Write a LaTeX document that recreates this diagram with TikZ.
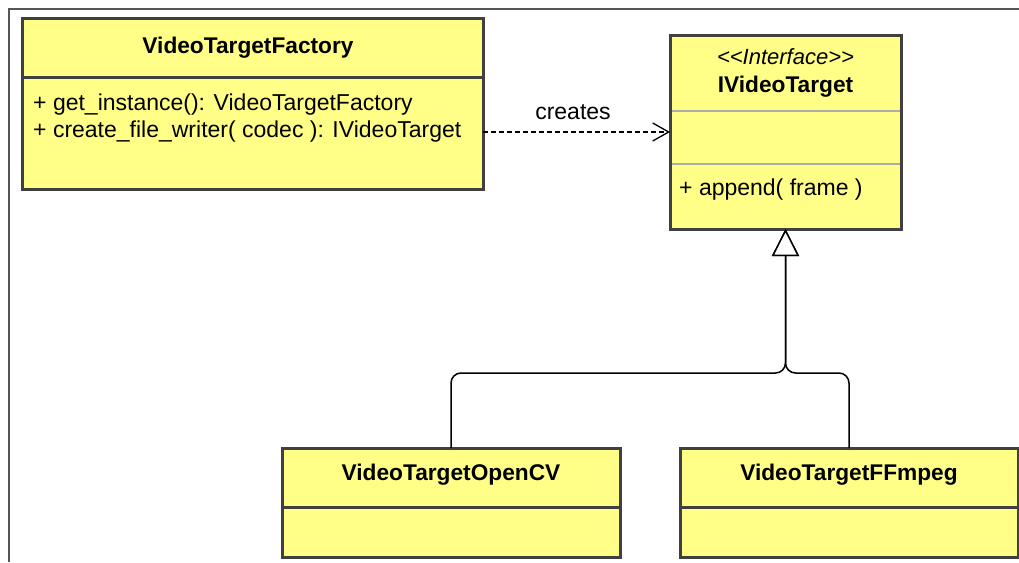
\documentclass[tikz,border=0pt]{standalone}
\usepackage{fontspec}
\setmainfont{Liberation Sans}
\usetikzlibrary{arrows.meta}
\definecolor{umlfill}{HTML}{FFFF88}
\definecolor{umledge}{HTML}{404040}
\definecolor{framecol}{HTML}{555555}
\tikzset{
 classbox/.style={draw=umledge, line width=3pt, fill=umlfill, anchor=north west, inner sep=0pt, outer sep=0pt},
 divider/.style={draw=umledge, line width=3pt},
 softdiv/.style={draw=gray!65, line width=1.5pt},
 classtitle/.style={font=\fontsize{22.7}{28}\selectfont\bfseries, inner sep=0pt, anchor=base},
 member/.style={font=\fontsize{23}{28}\selectfont, inner sep=0pt, anchor=base west},
 gen/.style={line width=1.5pt, rounded corners=10pt, -{Triangle[open,length=27pt,width=27pt,line width=1.5pt,fill=white]}},
 depend/.style={line width=1.3pt, dash pattern=on 5pt off 3pt, -{Straight Barb[length=16pt,width=18pt,line width=1.3pt]}},
}
\begin{document}
\begin{tikzpicture}[x=1pt,y=-1pt]
\useasboundingbox (0,0) rectangle (1019,562);
\draw[framecol, line width=1.5pt] (9,562) -- (9,9) -- (1019,9);

% VideoTargetFactory
\node[classbox, minimum width=461pt, minimum height=171pt] (fac) at (22,18) {};
\draw[divider] (22,77) -- (483,77);
\node[classtitle] (facname) at (248,53) {VideoTargetFactory};
\node[member] (facop1) at (33,110) {+ get\_instance(): VideoTargetFactory};
\node[member] (facop2) at (33,137.7) {+ create\_file\_writer( codec ): IVideoTarget};

% IVideoTarget
\node[classbox, minimum width=231pt, minimum height=194pt] (iv) at (670,35) {};
\draw[softdiv] (671.5,111) -- (899.5,111);
\draw[softdiv] (671.5,164) -- (899.5,164);
\node[classtitle, font=\fontsize{22}{28}\selectfont\itshape] (ivster) at (785.5,64.5) {<\kern0pt<Interface>\kern0pt>};
\node[classtitle] (ivname) at (785.5,92) {IVideoTarget};
\node[member] (ivops) at (679,195) {+ append( frame )};

% VideoTargetOpenCV
\node[classbox, minimum width=338pt, minimum height=109pt] (oc) at (282,448) {};
\draw[divider] (282,507) -- (620,507);
\node[classtitle] (ocname) at (451,480) {VideoTargetOpenCV};

% VideoTargetFFmpeg
\node[classbox, minimum width=338pt, minimum height=109pt] (ff) at (680,448) {};
\draw[divider] (680,507) -- (1018,507);
\node[classtitle] (ffname) at (849,480) {VideoTargetFFmpeg};

% connectors
\draw[depend] (iv.west -| fac.east) -- (iv.west);
\node[member, anchor=base] (creates) at (573,119) {creates};

\coordinate (bus) at (785.5,373);
\draw[gen] (oc.north) |- (bus) -- (iv.south);
\draw[gen] (ff.north) |- (bus) -- (iv.south);
\end{tikzpicture}
\end{document}
